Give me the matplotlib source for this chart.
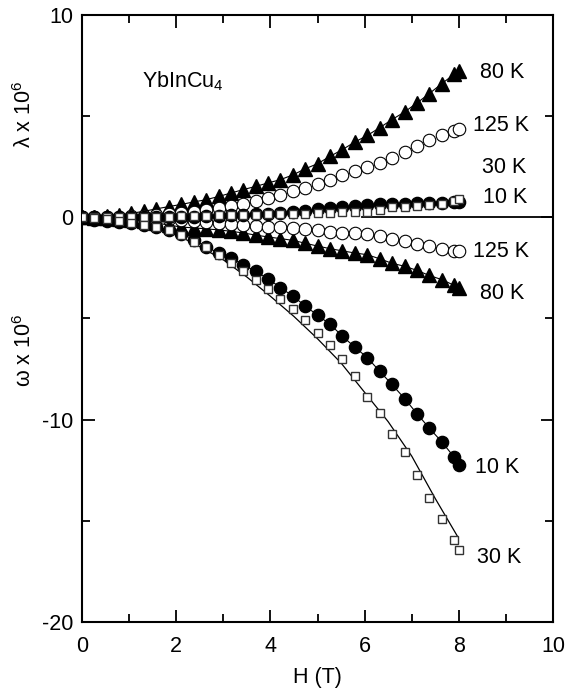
import matplotlib
matplotlib.use("Agg")
import matplotlib.pyplot as plt
from matplotlib.ticker import MultipleLocator

plt.rcParams['font.family'] = ['Liberation Sans', 'DejaVu Sans']
plt.rcParams['mathtext.fontset'] = 'custom'
plt.rcParams['mathtext.rm'] = 'Liberation Sans'
plt.rcParams['mathtext.it'] = 'Liberation Sans:italic'
plt.rcParams['axes.unicode_minus'] = False

FS = 15.5

# Field values (T)
H = [0, 0.26, 0.53, 0.79, 1.05, 1.32, 1.58, 1.84, 2.11, 2.37, 2.63, 2.9, 3.16,
     3.42, 3.69, 3.95, 4.21, 4.48, 4.74, 5.0, 5.27, 5.53, 5.79, 6.06, 6.32,
     6.58, 6.85, 7.11, 7.37, 7.64, 7.9, 8.0]

# lambda x 10^6 (upper branch)
lam_80K = [0, 0.02, 0.06, 0.12, 0.2, 0.3, 0.42, 0.53, 0.64, 0.76, 0.87, 1.03,
           1.2, 1.37, 1.53, 1.7, 1.86, 2.1, 2.4, 2.65, 3.02, 3.35, 3.72, 4.05,
           4.43, 4.83, 5.21, 5.65, 6.11, 6.61, 7.07, 7.23]
lam_125K = [0, 0.01, 0.02, 0.04, 0.06, 0.09, 0.12, 0.15, 0.19, 0.26, 0.34,
            0.44, 0.55, 0.68, 0.8, 0.95, 1.12, 1.28, 1.46, 1.67, 1.86, 2.08,
            2.29, 2.49, 2.69, 2.95, 3.23, 3.51, 3.81, 4.05, 4.27, 4.38]
lam_30K = [0, 0, 0, 0, 0, 0.01, 0.02, 0.03, 0.05, 0.07, 0.09, 0.1, 0.12, 0.13,
           0.14, 0.15, 0.15, 0.16, 0.18, 0.2, 0.22, 0.26, 0.28, 0.27, 0.38,
           0.5, 0.5, 0.55, 0.6, 0.65, 0.82, 0.9]
lam_10K = [0, 0, 0, 0, 0, 0, 0, 0.01, 0.02, 0.03, 0.05, 0.07, 0.1, 0.12, 0.15,
           0.18, 0.22, 0.28, 0.33, 0.4, 0.46, 0.52, 0.56, 0.6, 0.64, 0.66,
           0.68, 0.7, 0.71, 0.72, 0.74, 0.76]

# omega x 10^6 (lower branch)
om_125K = [0, 0, -0.01, -0.02, -0.03, -0.05, -0.07, -0.1, -0.14, -0.18, -0.22,
           -0.27, -0.32, -0.37, -0.42, -0.46, -0.5, -0.54, -0.6, -0.65, -0.71,
           -0.75, -0.78, -0.84, -0.94, -1.08, -1.19, -1.3, -1.42, -1.55,
           -1.66, -1.68]
om_80K = [0, -0.01, -0.03, -0.07, -0.12, -0.2, -0.28, -0.38, -0.48, -0.52,
          -0.57, -0.62, -0.69, -0.77, -0.88, -0.97, -1.05, -1.14, -1.28,
          -1.42, -1.55, -1.66, -1.76, -1.85, -2.05, -2.27, -2.42, -2.62,
          -2.87, -3.08, -3.36, -3.48]
om_10K = [0, -0.12, -0.2, -0.25, -0.3, -0.4, -0.5, -0.62, -0.8, -1.1, -1.45,
          -1.76, -2.0, -2.34, -2.67, -3.03, -3.47, -3.9, -4.38, -4.84, -5.29,
          -5.88, -6.41, -6.94, -7.61, -8.26, -8.96, -9.7, -10.41, -11.1,
          -11.85, -12.22]
om_30K = [0, -0.05, -0.1, -0.18, -0.28, -0.38, -0.5, -0.64, -0.85, -1.2, -1.47,
          -1.84, -2.24, -2.67, -3.08, -3.56, -4.05, -4.53, -5.06, -5.72,
          -6.29, -6.99, -7.86, -8.88, -9.65, -10.73, -11.62, -12.75, -13.86,
          -14.9, -15.94, -16.43]

# fitted curve for 30 K omega
H_fit = [0, 0.5, 1.0, 1.5, 2.0, 2.5, 3.0, 3.5, 4.0, 4.5, 5.0, 5.5, 6.0, 6.5,
         7.0, 7.5, 7.98]
om_30K_fit = [0, -0.05, -0.2, -0.45, -0.85, -1.45, -2.1, -2.95, -3.9, -4.9,
              -6.0, -7.2, -8.65, -10.1, -11.8, -13.9, -15.8]

fig = plt.figure(figsize=(5.68, 6.92), dpi=100)
ax = fig.add_axes([0.1444, 0.1012, 0.8292, 0.8771])

ax.plot([5.95, 10], [0, 0], color='black', lw=1.3, zorder=1)

lw_conn = 0.8
ax.plot(H, lam_80K, color='black', lw=lw_conn, marker='^', ms=9.5,
        mfc='black', mec='black', zorder=3)
ax.plot(H, om_80K, color='black', lw=lw_conn, marker='^', ms=9.5,
        mfc='black', mec='black', zorder=3)
ax.plot(H, lam_125K, ls='none', marker='o', ms=9, mfc='white',
        mec='black', mew=0.8, zorder=4)
ax.plot(H, om_125K, ls='none', marker='o', ms=9, mfc='white',
        mec='black', mew=0.8, zorder=4)
ax.plot(H, lam_10K, ls='none', marker='o', ms=8.8, mfc='black',
        mec='black', zorder=5)
ax.plot(H, om_10K, color='black', lw=lw_conn, marker='o', ms=8.8,
        mfc='black', mec='black', zorder=5)
ax.plot(H, lam_30K, ls='none', marker='s', ms=6, mfc='white',
        mec='#333333', mew=1.0, zorder=6)
ax.plot(H, om_30K, ls='none', marker='s', ms=6, mfc='white',
        mec='#333333', mew=1.0, zorder=6)
ax.plot(H_fit, om_30K_fit, color='black', lw=0.9, zorder=2)

ax.set_xlim(0, 10)
ax.set_ylim(-20, 10)
ax.xaxis.set_major_locator(MultipleLocator(2))
ax.xaxis.set_minor_locator(MultipleLocator(1))
ax.yaxis.set_major_locator(MultipleLocator(10))
ax.yaxis.set_minor_locator(MultipleLocator(5))
ax.tick_params(which='both', direction='in', top=True, right=True,
               labelsize=FS, width=1.3, color='black')
ax.tick_params(which='major', length=9)
ax.tick_params(which='minor', length=5.5)
ax.tick_params(axis='x', which='major', pad=10)
ax.tick_params(axis='y', which='major', pad=6)
for s in ax.spines.values():
    s.set_linewidth(1.5)

ax.set_xlabel('H (T)', fontsize=FS, labelpad=7)

ax.text(-1.21, 5.09, 'λ x 10$^6$', rotation=90, ha='center', va='center',
        fontsize=FS)
ax.text(-1.21, -6.57, 'ω x 10$^6$', rotation=90, ha='center', va='center',
        fontsize=FS)
ax.text(1.27, 6.72, 'YbInCu$_4$', ha='left', va='center', fontsize=FS)

labels = [(8.45, 7.18, '80 K'), (8.30, 4.55, '125 K'), (8.49, 2.47, '30 K'),
          (8.51, 0.99, '10 K'), (8.30, -1.68, '125 K'), (8.45, -3.76, '80 K'),
          (8.34, -12.36, '10 K'), (8.39, -16.8, '30 K')]
for x, y, t in labels:
    ax.text(x, y, t, ha='left', va='center', fontsize=FS)

fig.savefig('out.png', dpi=100)
